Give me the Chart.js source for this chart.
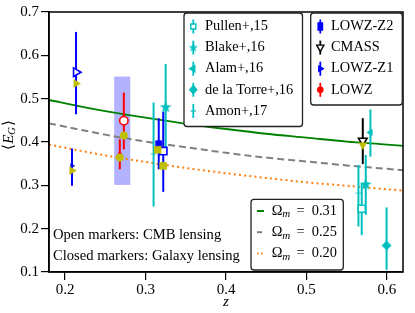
<!DOCTYPE html>
<html><head><meta charset="utf-8">
<script src="https://cdn.jsdelivr.net/npm/chart.js@4.4.0/dist/chart.umd.min.js"></script>
<style>html,body{margin:0;padding:0;background:#fff;}#wrap{width:415px;height:313px;}</style>
</head><body><div id="wrap"><canvas id="c" width="415" height="313"></canvas></div>
<script>
// ---- data ----
const xTicks = [0.2, 0.3, 0.4, 0.5, 0.6];
const yTicks = [0.1, 0.2, 0.3, 0.4, 0.5, 0.6, 0.7];
const theoryZ = [0.18, 0.25, 0.30, 0.35, 0.40, 0.45, 0.50, 0.55, 0.60, 0.62];
const om031 = [0.497, 0.471, 0.456, 0.442, 0.430, 0.419, 0.410, 0.401, 0.394, 0.391];
const om025 = [0.443, 0.417, 0.401, 0.388, 0.375, 0.364, 0.355, 0.346, 0.338, 0.335];
const om020 = [0.394, 0.369, 0.354, 0.340, 0.328, 0.317, 0.307, 0.299, 0.291, 0.288];
const bandZ = [0.261, 0.281];
const bandE = [0.301, 0.551];

const pullenZ = [0.5687], pullenE = [0.246], pullenLo = [0.185], pullenHi = [0.305];
const blakeZ = [0.325, 0.5737], blakeE = [0.480, 0.302], blakeLo = [0.381, 0.232], blakeHi = [0.580, 0.370];
const alamZ = [0.5795], alamE = [0.422], alamLo = [0.366], alamHi = [0.475];
const torreZ = [0.5996], torreE = [0.161], torreLo = [0.105], torreHi = [0.249];
const amonZ = [0.310, 0.5646], amonE = [0.372, 0.282], amonLo = [0.251, 0.205], amonHi = [0.491, 0.347];

const z2GalZ = [0.3164], z2GalE = [0.396], z2GalLo = [0.337], z2GalHi = [0.455];
const z2CmbZ = [0.322], z2CmbE = [0.379], z2CmbLo = [0.285], z2CmbHi = [0.470];
const cmassCmbZ = [0.570], cmassCmbE = [0.403], cmassCmbLo = [0.349], cmassCmbHi = [0.455];
const z1CmbZ = [0.2136], z1CmbE = [0.561], z1CmbLo = [0.464], z1CmbHi = [0.654];
const z1GalZ = [0.2086], z1GalE = [0.345], z1GalLo = [0.299], z1GalHi = [0.385];
const lowzCmbZ = [0.273], lowzCmbE = [0.449], lowzCmbLo = [0.383], lowzCmbHi = [0.514];
const lowzGalZ = [0.268], lowzGalE = [0.372], lowzGalLo = [0.337], lowzGalHi = [0.406];

const predTriZ = [0.2136, 0.2086], predTriE = [0.535, 0.334];
const predCircZ = [0.273, 0.268], predCircE = [0.415, 0.364];
const predSqZ = [0.315, 0.322], predSqE = [0.382, 0.345];
const predDownZ = [0.570], predDownE = [0.393];

// ---- styles ----
const C = '#00bfbf', B = '#0000ff', R = '#ff0000', Y = '#bfbf00', K = '#000000';
const SERIF = "'Liberation Serif', 'Times New Roman', serif";

function pts(z, e) { return z.map((v, i) => ({ x: v, y: e[i] })); }
function starCanvas(size, ro, ri, col) {
  const c = document.createElement('canvas'); c.width = size; c.height = size;
  const g = c.getContext('2d'); g.fillStyle = col; g.beginPath();
  for (let i = 0; i < 10; i++) {
    const r = i % 2 ? ri : ro, a = -Math.PI / 2 + i * Math.PI / 5;
    g.lineTo(size / 2 + r * Math.cos(a), size / 2 + r * Math.sin(a));
  }
  g.closePath(); g.fill(); return c;
}
const starBig = starCanvas(14, 6.2, 2.5, C);

function meas(label, z, e, lo, hi, color, style, r, open, rot) {
  return { label, data: pts(z, e), lo, hi, errColor: color, isPoint: true, order: 1,
    pointStyle: style, pointRadius: r, pointHoverRadius: r, pointRotation: rot || 0,
    backgroundColor: open ? '#ffffff' : color, borderColor: color,
    pointBorderWidth: open ? 1.6 : 0.8, showLine: false };
}
function pred(z, e, style, r, rot) {
  return { data: pts(z, e), order: 0, pointStyle: style, pointRadius: r, pointHoverRadius: r,
    pointRotation: rot || 0, backgroundColor: Y, borderColor: Y, pointBorderWidth: 0.5, showLine: false };
}
function theory(e, color, dash, w) {
  return { type: 'line', data: pts(theoryZ, e), order: 2, borderColor: color, borderWidth: w,
    borderDash: dash, pointRadius: 0, fill: false, cubicInterpolationMode: 'monotone', borderCapStyle: 'butt' };
}

const datasets = [
  pred(predTriZ, predTriE, 'triangle', 4.5, 90),
  pred(predCircZ, predCircE, 'circle', 3.8),
  pred(predSqZ, predSqE, 'rect', 5),
  pred(predDownZ, predDownE, 'triangle', 4.5, 180),
  meas('Pullen+,15', pullenZ, pullenE, pullenLo, pullenHi, C, 'rect', 5, true),
  meas('Blake+,16', blakeZ, blakeE, blakeLo, blakeHi, C, starBig, 6),
  meas('Alam+,16', alamZ, alamE, alamLo, alamHi, C, 'triangle', 3.5, false, -90),
  meas('de la Torre+,16', torreZ, torreE, torreLo, torreHi, C, 'rectRot', 4.5),
  meas('Amon+,17', amonZ, amonE, amonLo, amonHi, C, 'line', 2.8),
  meas('LOWZ-Z2', z2GalZ, z2GalE, z2GalLo, z2GalHi, B, 'rect', 4.2),
  meas('LOWZ-Z2 CMB', z2CmbZ, z2CmbE, z2CmbLo, z2CmbHi, B, 'rect', 5.2, true),
  meas('CMASS', cmassCmbZ, cmassCmbE, cmassCmbLo, cmassCmbHi, K, 'triangle', 5, true, 180),
  meas('LOWZ-Z1 CMB', z1CmbZ, z1CmbE, z1CmbLo, z1CmbHi, B, 'triangle', 5, true, 90),
  meas('LOWZ-Z1', z1GalZ, z1GalE, z1GalLo, z1GalHi, B, 'triangle', 2.5, false, 90),
  meas('LOWZ CMB', lowzCmbZ, lowzCmbE, lowzCmbLo, lowzCmbHi, R, 'circle', 4.2, true),
  meas('LOWZ', lowzGalZ, lowzGalE, lowzGalLo, lowzGalHi, R, 'triangle', 3),
  theory(om031, '#008000', [], 1.8),
  theory(om025, '#808080', [7, 4], 2),
  theory(om020, '#ff7f0e', [2, 3.2], 2)
];

// ---- own small marker painter for legends ----
function marker(ctx, kind, x, y, col, open) {
  ctx.save(); ctx.fillStyle = open ? '#fff' : col; ctx.strokeStyle = col; ctx.lineWidth = 1.4;
  ctx.beginPath();
  if (kind === 'sq') { ctx.rect(x - 2.5, y - 2.5, 5, 5); }
  else if (kind === 'dia') { ctx.moveTo(x, y - 4); ctx.lineTo(x + 3.5, y); ctx.lineTo(x, y + 4); ctx.lineTo(x - 3.5, y); ctx.closePath(); }
  else if (kind === 'tl') { ctx.moveTo(x - 3.5, y); ctx.lineTo(x + 1.5, y - 3); ctx.lineTo(x + 1.5, y + 3); ctx.closePath(); }
  else if (kind === 'tr') { ctx.moveTo(x + 3, y); ctx.lineTo(x - 1.5, y - 2.6); ctx.lineTo(x - 1.5, y + 2.6); ctx.closePath(); }
  else if (kind === 'td') { ctx.moveTo(x, y + 4); ctx.lineTo(x - 3.6, y - 2.5); ctx.lineTo(x + 3.6, y - 2.5); ctx.closePath(); }
  else if (kind === 'ci') { ctx.arc(x, y, 2.6, 0, Math.PI * 2); }
  else if (kind === 'bsq') { ctx.rect(x - 2.2, y - 3.5, 4.4, 7); }
  if (kind === 'star') { ctx.drawImage(starCanvas(12, 5, 2, col), x - 6, y - 6); }
  else if (kind === 'dash') { ctx.moveTo(x - 2.5, y); ctx.lineTo(x + 2.5, y); ctx.stroke(); }
  else { ctx.fill(); ctx.stroke(); }
  ctx.restore();
}
function box(ctx, x0, y0, x1, y1) {
  ctx.save(); ctx.beginPath();
  if (ctx.roundRect) ctx.roundRect(x0, y0, x1 - x0, y1 - y0, 3); else ctx.rect(x0, y0, x1 - x0, y1 - y0);
  ctx.fillStyle = '#fff'; ctx.fill(); ctx.lineWidth = 1.3; ctx.strokeStyle = '#222'; ctx.stroke(); ctx.restore();
}

const legend1 = [['Pullen+,15', 'sq', true], ['Blake+,16', 'star'], ['Alam+,16', 'tl'], ['de la Torre+,16', 'dia'], ['Amon+,17', 'dash']];
const legend2 = [['LOWZ-Z2', 'bsq', B], ['CMASS', 'td', K, true], ['LOWZ-Z1', 'tr', B], ['LOWZ', 'ci', R]];
const legend3 = [['0.31', '#008000', []], ['0.25', '#808080', [5, 3]], ['0.20', '#ff7f0e', [1.5, 2.5]]];

const plug = {
  id: 'custom',
  beforeDatasetsDraw(chart) {
    const { ctx, scales: { x, y } } = chart;
    ctx.save(); ctx.fillStyle = 'rgba(0,0,255,0.3)';
    const x0 = x.getPixelForValue(bandZ[0]), x1 = x.getPixelForValue(bandZ[1]);
    const y0 = y.getPixelForValue(bandE[1]), y1 = y.getPixelForValue(bandE[0]);
    ctx.fillRect(x0, y0, x1 - x0, y1 - y0); ctx.restore();
    chart.$errDone = false;
  },
  beforeDatasetDraw(chart, args) {
    const ds = chart.data.datasets[args.index];
    if (chart.$errDone || !ds.isPoint) return;
    chart.$errDone = true;
    const { ctx, scales: { x, y } } = chart;
    ctx.save(); ctx.lineWidth = 2; ctx.lineCap = 'butt';
    chart.data.datasets.forEach(d => {
      if (!d.isPoint) return;
      ctx.strokeStyle = d.errColor;
      d.data.forEach((p, i) => {
        const px = x.getPixelForValue(p.x);
        ctx.beginPath(); ctx.moveTo(px, y.getPixelForValue(d.lo[i])); ctx.lineTo(px, y.getPixelForValue(d.hi[i])); ctx.stroke();
      });
    });
    ctx.restore();
  },
  afterDraw(chart) {
    const { ctx, chartArea: a } = chart;
    ctx.save();
    ctx.lineWidth = 1.5; ctx.strokeStyle = '#000';
    ctx.strokeRect(a.left, a.top, a.right - a.left, a.bottom - a.top);
    ctx.fillStyle = '#000'; ctx.textBaseline = 'middle';
    // annotations
    ctx.font = '14.6px ' + SERIF;
    ctx.fillText('Open markers: CMB lensing', 53, 235);
    ctx.fillText('Closed markers: Galaxy lensing', 53, 256.5);
    // legend 1
    box(ctx, 184, 13, 302.5, 126.5);
    ctx.font = '14.4px ' + SERIF;
    legend1.forEach((e, i) => {
      const yy = 26.5 + i * 21.1;
      ctx.save(); ctx.strokeStyle = C; ctx.lineWidth = 1.8; ctx.beginPath(); ctx.moveTo(193.3, yy - 7); ctx.lineTo(193.3, yy + 7); ctx.stroke(); ctx.restore();
      marker(ctx, e[1], 193.3, yy, C, e[2]);
      ctx.fillStyle = '#000'; ctx.fillText(e[0], 205, yy);
    });
    // legend 2
    box(ctx, 310.7, 13, 402.3, 105);
    legend2.forEach((e, i) => {
      const yy = 26.5 + i * 21.1;
      ctx.save(); ctx.strokeStyle = e[2]; ctx.lineWidth = 1.8; ctx.beginPath(); ctx.moveTo(320.3, yy - 7); ctx.lineTo(320.3, yy + 7); ctx.stroke(); ctx.restore();
      marker(ctx, e[1], 320.3, yy, e[2], e[3]);
      ctx.fillStyle = '#000'; ctx.fillText(e[0], 331, yy);
    });
    // legend 3
    box(ctx, 251, 199.3, 343.3, 270);
    legend3.forEach((e, i) => {
      const yy = 211 + i * 21.2;
      ctx.save(); ctx.strokeStyle = e[1]; ctx.lineWidth = 2; ctx.setLineDash(e[2]);
      ctx.beginPath(); ctx.moveTo(257, yy); ctx.lineTo(264, yy); ctx.stroke(); ctx.restore();
      ctx.fillStyle = '#000';
      ctx.font = '14.4px ' + SERIF; ctx.fillText('Ω', 271.7, yy);
      ctx.font = 'italic 11px ' + SERIF; ctx.fillText('m', 282.3, yy + 3.5);
      ctx.font = '14.4px ' + SERIF; ctx.fillText('=', 296.5, yy); ctx.fillText(e[0], 311.7, yy);
    });
    // x title
    ctx.font = 'italic 15px ' + SERIF; ctx.textAlign = 'center';
    ctx.fillText('z', 226, 302.5);
    // y title
    ctx.translate(9, 135); ctx.rotate(-Math.PI / 2); ctx.textAlign = 'left';
    const f1 = '15px ' + SERIF, fi = 'italic 15px ' + SERIF, fs = 'italic 10.5px ' + SERIF;
    ctx.font = f1; const w1 = ctx.measureText('⟨').width;
    ctx.font = fi; const w2 = ctx.measureText('E').width;
    ctx.font = fs; const w3 = ctx.measureText('G').width;
    ctx.font = f1; const w4 = ctx.measureText('⟩').width;
    let cx = -(w1 + w2 + w3 + w4 + 1) / 2;
    ctx.font = f1; ctx.fillText('⟨', cx, 0); cx += w1;
    ctx.font = fi; ctx.fillText('E', cx, 0); cx += w2;
    ctx.font = fs; ctx.fillText('G', cx, 3.5); cx += w3 + 1;
    ctx.font = f1; ctx.fillText('⟩', cx, 0);
    ctx.restore();
  }
};

new Chart(document.getElementById('c'), {
  type: 'scatter',
  data: { datasets },
  options: {
    responsive: false, animation: false, devicePixelRatio: 1, events: [],
    layout: { padding: { left: 0, right: 12, top: 12, bottom: 0 } },
    plugins: { legend: { display: false }, tooltip: { enabled: false } },
    scales: {
      x: {
        type: 'linear', min: 0.18, max: 0.62,
        afterBuildTicks: s => { s.ticks = xTicks.map(v => ({ value: v })); },
        afterFit: s => { s.height = 41; },
        grid: { drawOnChartArea: false, drawTicks: true, tickLength: 8, color: '#000', lineWidth: 1.2 },
        border: { display: true, color: '#000', width: 1.5 },
        ticks: { color: '#000', font: { family: SERIF, size: 15 }, padding: 1, maxRotation: 0, autoSkip: false, callback: v => v.toFixed(1) }
      },
      y: {
        type: 'linear', min: 0.1, max: 0.7,
        afterBuildTicks: s => { s.ticks = yTicks.map(v => ({ value: v })); },
        afterFit: s => { s.width = 49; },
        grid: { drawOnChartArea: false, drawTicks: true, tickLength: 8, color: '#000', lineWidth: 1.2 },
        border: { display: true, color: '#000', width: 1.5 },
        ticks: { color: '#000', font: { family: SERIF, size: 15 }, padding: 2, autoSkip: false, callback: v => v.toFixed(1) }
      }
    }
  },
  plugins: [plug]
});
</script></body></html>
